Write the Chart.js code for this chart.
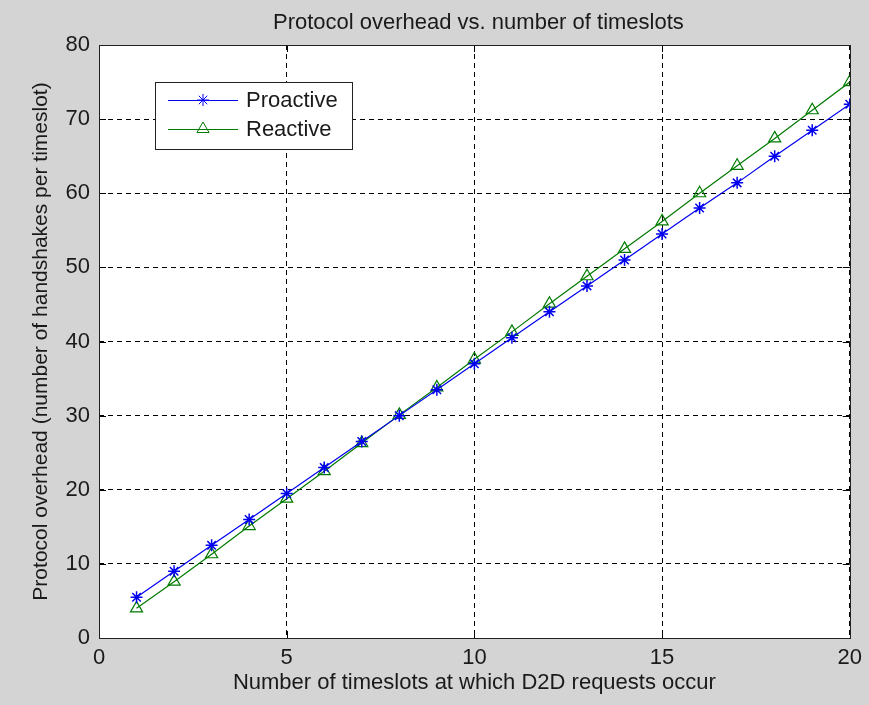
<!DOCTYPE html>
<html>
<head>
<meta charset="utf-8">
<script src="https://cdn.jsdelivr.net/npm/chart.js@4.4.1/dist/chart.umd.min.js"></script>
<style>
  html, body { margin: 0; padding: 0; background: #d4d4d4; }
  #wrap { width: 869px; height: 705px; position: relative; }
</style>
</head>
<body>
<div id="wrap"><canvas id="chart"></canvas></div>
<script>
// Data
const timeslots = [1, 2, 3, 4, 5, 6, 7, 8, 9, 10, 11, 12, 13, 14, 15, 16, 17, 18, 19, 20];
const proactive = [5.5, 9.0, 12.5, 16.0, 19.5, 23.0, 26.5, 30.0, 33.5, 37.0, 40.5, 44.0, 47.5, 51.0, 54.5, 58.0, 61.4, 65.0, 68.5, 72.0];
const reactive = [4.0, 7.6, 11.3, 15.1, 18.8, 22.5, 26.3, 30.1, 33.8, 37.6, 41.3, 45.1, 48.8, 52.5, 56.2, 60.0, 63.7, 67.4, 71.2, 75.0];
const xTicks = [0, 5, 10, 15, 20];
const yTicks = [0, 10, 20, 30, 40, 50, 60, 70, 80];
const chartTitle = 'Protocol overhead vs. number of timeslots';

const FONT = 'Liberation Sans, Arial, sans-serif';
const SIZE = 22;
const TEXT = '#1a1a1a';

const toPoints = (ys) => timeslots.map((x, i) => ({ x: x, y: ys[i] }));

/**
 * White axes box, full frame, inward tick marks and title centred on the axes
 */
const frame = {
  id: 'frame',
  beforeDraw(chart) {
    const { ctx, chartArea: a } = chart;
    ctx.save();
    ctx.fillStyle = '#ffffff';
    ctx.fillRect(a.left, a.top, a.right - a.left, a.bottom - a.top);
    ctx.restore();
  },
  afterDatasetsDraw(chart) {
    const { ctx, chartArea: a, scales } = chart;
    ctx.save();
    ctx.strokeStyle = '#000';
    ctx.lineWidth = 1;
    ctx.setLineDash([]);
    const len = 7;
    ctx.beginPath();
    xTicks.forEach((v) => {
      const px = Math.round(scales.x.getPixelForValue(v)) + 0.5;
      ctx.moveTo(px, a.bottom); ctx.lineTo(px, a.bottom - len);
      ctx.moveTo(px, a.top); ctx.lineTo(px, a.top + len);
    });
    yTicks.forEach((v) => {
      const py = Math.round(scales.y.getPixelForValue(v)) + 0.5;
      ctx.moveTo(a.left, py); ctx.lineTo(a.left + len, py);
      ctx.moveTo(a.right, py); ctx.lineTo(a.right - len, py);
    });
    ctx.stroke();
    ctx.strokeStyle = '#222';
    ctx.strokeRect(Math.round(a.left) + 0.5, Math.round(a.top) + 0.5,
      Math.round(a.right - a.left), Math.round(a.bottom - a.top));

    // title
    ctx.fillStyle = TEXT;
    ctx.font = SIZE + 'px ' + FONT;
    ctx.textAlign = 'center';
    ctx.textBaseline = 'middle';
    ctx.fillText(chartTitle, (a.left + a.right) / 2 + 4, a.top - 22);
    ctx.restore();
  },
};

/**
 * Boxed legend inside the axes, top-left
 */
const boxLegend = {
  id: 'boxLegend',
  afterDraw(chart) {
    const { ctx, chartArea: a } = chart;
    const bx = a.left + 56, by = a.top + 37, bw = 197, bh = 67;
    ctx.save();
    ctx.fillStyle = '#fff';
    ctx.fillRect(bx, by, bw, bh);
    ctx.strokeStyle = '#222';
    ctx.lineWidth = 1;
    ctx.strokeRect(bx + 0.5, by + 0.5, bw, bh);
    chart.data.datasets.forEach((ds, i) => {
      const y = by + 18 + i * 29;
      ctx.strokeStyle = ds.borderColor;
      ctx.beginPath();
      ctx.moveTo(bx + 13, y + 0.5);
      ctx.lineTo(bx + 83, y + 0.5);
      ctx.stroke();
      ctx.fillStyle = 'rgba(0,0,0,0)';
      Chart.helpers.drawPoint(ctx, {
        pointStyle: ds.pointStyle,
        radius: ds.pointRadius,
        borderWidth: 1,
      }, bx + 48, y);
      ctx.fillStyle = TEXT;
      ctx.font = SIZE + 'px ' + FONT;
      ctx.textBaseline = 'middle';
      ctx.fillText(ds.label, bx + 91, y + 1);
    });
    ctx.restore();
  },
};

new Chart(document.getElementById('chart'), {
  type: 'line',
  data: {
    datasets: [
      {
        label: 'Proactive',
        data: toPoints(proactive),
        borderColor: '#0000ee',
        backgroundColor: 'transparent',
        pointStyle: 'star',
        pointRadius: 6,
        pointBorderColor: '#0000ee',
        borderWidth: 1.2,
        pointBorderWidth: 1.5,
      },
      {
        label: 'Reactive',
        data: toPoints(reactive),
        borderColor: '#007a00',
        backgroundColor: 'transparent',
        pointStyle: 'triangle',
        pointRadius: 7,
        pointBorderColor: '#007a00',
        borderWidth: 1.2,
        pointBorderWidth: 1.2,
      },
    ],
  },
  options: {
    responsive: true,
    maintainAspectRatio: false,
    animation: false,
    layout: { padding: { left: 0, right: 18, top: 45, bottom: 0 } },
    plugins: {
      legend: { display: false },
      tooltip: { enabled: false },
      title: { display: false },
    },
    scales: {
      x: {
        type: 'linear',
        min: 0,
        max: 20,
        afterBuildTicks: (s) => { s.ticks = xTicks.map((v) => ({ value: v })); },
        afterFit: (s) => { s.height = 67; },
        grid: { color: '#000', lineWidth: 1, drawTicks: false },
        border: { display: false, dash: [5, 4] },
        ticks: { color: TEXT, padding: 7, maxRotation: 0, font: { family: FONT, size: SIZE } },
        title: {
          display: true,
          text: 'Number of timeslots at which D2D requests occur',
          color: TEXT,
          padding: 9,
          font: { family: FONT, size: SIZE, lineHeight: 1.2 },
        },
      },
      y: {
        min: 0,
        max: 80,
        afterBuildTicks: (s) => { s.ticks = yTicks.map((v) => ({ value: v })); },
        afterFit: (s) => { s.width = 99; },
        grid: { color: '#000', lineWidth: 1, drawTicks: false },
        border: { display: false, dash: [5, 4] },
        ticks: { color: TEXT, padding: 9, font: { family: FONT, size: SIZE } },
        title: {
          display: true,
          text: 'Protocol overhead (number of handshakes per timeslot)',
          color: TEXT,
          padding: 28.5,
          font: { family: FONT, size: 21, lineHeight: 1.2 },
        },
      },
    },
  },
  plugins: [frame, boxLegend],
});
</script>
</body>
</html>
